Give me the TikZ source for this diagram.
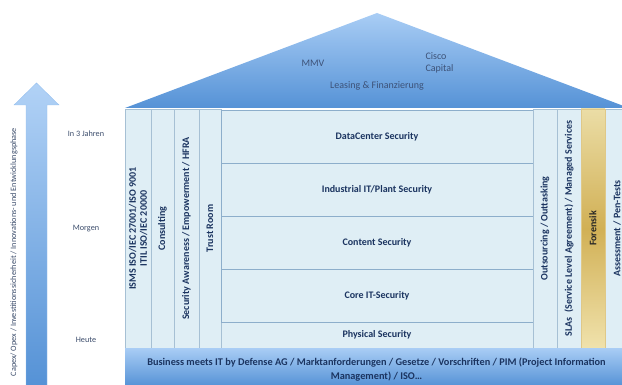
\documentclass[tikz,border=0pt]{standalone}
\usepackage{fontspec}
\setmainfont{Carlito}
\usetikzlibrary{shadows}
\definecolor{navy}{HTML}{1B3460}
\definecolor{labelc}{HTML}{3B4C6B}
\definecolor{roofT}{HTML}{A9CDF5}
\definecolor{roofB}{HTML}{5592D6}
\definecolor{pillarF}{HTML}{DFEEF5}
\definecolor{pillarD}{HTML}{A6C0D4}
\definecolor{boxD}{HTML}{8DAECB}
\definecolor{fT}{HTML}{EBDDA6}
\definecolor{fM}{HTML}{D1B055}
\definecolor{fB}{HTML}{F0E2AC}
\tikzset{
  pillar/.style={draw=pillarD, fill=pillarF, line width=0.6pt, inner sep=0pt, rotate=90,
    minimum width=239pt, text=navy, font=\fontsize{10}{11}\selectfont\bfseries, align=center},
  midbox/.style={draw=boxD, fill=pillarF, line width=0.7pt, inner sep=0pt, minimum width=312pt,
    text=navy, font=\fontsize{10}{11}\selectfont\bfseries},
  vlabel/.style={text=labelc, font=\fontsize{8.2}{9.5}\selectfont},
  rooftext/.style={text=navy!85!white, font=\fontsize{10}{12}\selectfont, align=left},
}
\begin{document}
\begin{tikzpicture}[x=1pt,y=-1pt]
\useasboundingbox (0,0) rectangle (622,385);
\clip (0,0) rectangle (622,385);
% roof
\shade[top color=roofT, bottom color=roofB] (125,108) -- (377,13) -- (629,108) -- cycle;
\node[rooftext] (mmv) at (313,63) {MMV};
\node[rooftext, anchor=west] (cisco) at (422,63) {Cisco\\Capital};
\node[rooftext] (leasing) at (377,86) {Leasing \& Finanzierung};
% left arrow
\shade[top color=roofT!90!white, bottom color=roofB, draw=roofT!80!roofB, line width=0.4pt]
  (26,386) -- (26,105) -- (14,105) -- (36.5,83) -- (59,105) -- (47,105) -- (47,386) -- cycle;
\node[vlabel, rotate=90] (capex) at (14,252) {Capex/ Opex / Investitionssicherheit / Innovations- und Entwicklungsphase};
\node[vlabel] (j3) at (86,134) {In 3 Jahren};
\node[vlabel] (morgen) at (86,229) {Morgen};
\node[vlabel] (heute) at (86,340) {Heute};
% left pillars
\node[pillar, minimum height=26pt] (isms) at (138,228.5) {ISMS ISO/IEC 27001/ISO 9001\\ITIL ISO/IEC 20000};
\node[pillar, minimum height=23pt] (consult) at (162.5,228.5) {Consulting};
\node[pillar, minimum height=25pt] (aware) at (186.5,228.5) {Security Awareness / Empowerment / HFRA};
\node[pillar, minimum height=22pt] (trust) at (210,228.5) {Trust Room};
% middle
\node[midbox, draw=pillarD, minimum height=26pt] (phys) at (377,335) {Physical Security};
\node[midbox, minimum height=53pt] (dc) at (377,136.5) {DataCenter Security};
\node[midbox, minimum height=53pt] (ind) at (377,189.5) {Industrial IT/Plant Security};
\node[midbox, minimum height=53pt] (cont) at (377,242.5) {Content Security};
\node[midbox, minimum height=53pt] (core) at (377,295.5) {Core IT-Security};
% right pillars
\node[pillar, minimum height=24pt] (outs) at (545,228.5) {Outsourcing / Outtasking};
\node[pillar, minimum height=24pt] (sla) at (569,228.5) {SLAs \ (Service Level Agreement) / Managed Services};
\node[pillar, minimum height=24pt] (assess) at (617,228.5) {Assessment / Pen-Tests};
\node[draw=fM!70!white, line width=0.3pt, top color=fT, bottom color=fB, middle color=fM, minimum width=24pt, minimum height=239pt, inner sep=0pt,
  drop shadow={opacity=0.35, shadow xshift=1pt, shadow yshift=-1.2pt}] (forbox) at (593,228.5) {};
\node[rotate=90, text=black!85, font=\fontsize{10}{11}\selectfont\bfseries] (fors) at (forbox) {Forensik};
% base
\node[top color=roofT, bottom color=roofB, minimum width=504pt, minimum height=38pt, inner sep=0pt] (base) at (377,367) {};
\node[text=navy, font=\fontsize{10.3}{13.5}\selectfont\bfseries, align=center] (baset) at (376.5,369.5)
  {Business meets IT by Defense AG / Marktanforderungen / Gesetze / Vorschriften / PIM (Project Information\\Management) / ISO\dots};
\end{tikzpicture}
\end{document}
